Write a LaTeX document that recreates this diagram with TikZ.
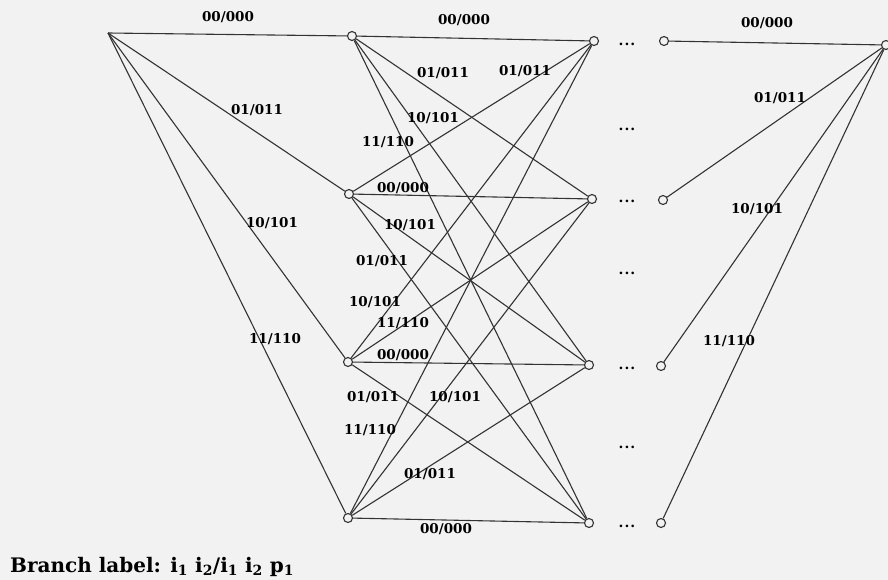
\documentclass[tikz,border=0pt]{standalone}
\usepackage{fontspec}
\setmainfont{DejaVu Serif}
\begin{document}
\begin{tikzpicture}[x=1pt,y=-1pt,
  st/.style={circle,draw=black!80,fill=black!5,line width=1.1pt,inner sep=0pt,minimum size=9pt},
  br/.style={draw=black!80,line width=1.1pt},
  lab/.style={font=\fontsize{13.5}{15}\selectfont\bfseries,inner sep=0pt},
  dotsnode/.style={font=\fontsize{14}{15}\selectfont\bfseries,inner sep=0pt}]
\fill[black!5] (0,0) rectangle (888,580);
\useasboundingbox (0,0) rectangle (888,580);
% states
\coordinate (S) at (108,33);
\node[st] (L1) at (352,36) {};
\node[st] (L2) at (349,194) {};
\node[st] (L3) at (348,362) {};
\node[st] (L4) at (348,518) {};
\node[st] (R1) at (594,41) {};
\node[st] (R2) at (592,199) {};
\node[st] (R3) at (589,365) {};
\node[st] (R4) at (589,523) {};
\node[st] (Q1) at (664,41) {};
\node[st] (Q2) at (663,200) {};
\node[st] (Q3) at (661,366) {};
\node[st] (Q4) at (661,523) {};
\node[st] (F) at (886,45) {};
% branches from start
\foreach \n in {L1,L2,L3,L4} \draw[br] (S) -- (\n);
% full trellis section
\foreach \a in {L1,L2,L3,L4}
  \foreach \b in {R1,R2,R3,R4}
    \draw[br] (\a) -- (\b);
% branches to end
\foreach \n in {Q1,Q2,Q3,Q4} \draw[br] (\n) -- (F);
% dots
\foreach \y [count=\i] in {44,129,201,273,368,447,526}
  \node[dotsnode] (d\i) at (627,\y) {.\kern1pt.\kern1pt.};
% labels left
\node[lab] (a1) at (228,17) {00/000};
\node[lab] (a2) at (257,110) {01/011};
\node[lab] (a3) at (272,223) {10/101};
\node[lab] (a4) at (275,339) {11/110};
% labels middle
\node[lab] (m1) at (464,20) {00/000};
\node[lab] (m2) at (443,73) {01/011};
\node[lab] (m3) at (525,71) {01/011};
\node[lab] (m4) at (433,118) {10/101};
\node[lab] (m5) at (388,142) {11/110};
\node[lab] (m6) at (403,188) {00/000};
\node[lab] (m7) at (410,225) {10/101};
\node[lab] (m8) at (382,261) {01/011};
\node[lab] (m9) at (375,302) {10/101};
\node[lab] (m10) at (403,323) {11/110};
\node[lab] (m11) at (403,355) {00/000};
\node[lab] (m12) at (373,397) {01/011};
\node[lab] (m13) at (455,397) {10/101};
\node[lab] (m14) at (370,430) {11/110};
\node[lab] (m15) at (430,474) {01/011};
\node[lab] (m16) at (446,529) {00/000};
% labels right
\node[lab] (r1) at (767,23) {00/000};
\node[lab] (r2) at (780,98) {01/011};
\node[lab] (r3) at (757,209) {10/101};
\node[lab] (r4) at (729,341) {11/110};
% legend
\node[anchor=base west,inner sep=0pt,font=\fontsize{20}{24}\selectfont\bfseries] (leg) at (10,572)
  {Branch label: i\textsubscript{1} i\textsubscript{2}/i\textsubscript{1} i\textsubscript{2} p\textsubscript{1}};
\end{tikzpicture}
\end{document}
